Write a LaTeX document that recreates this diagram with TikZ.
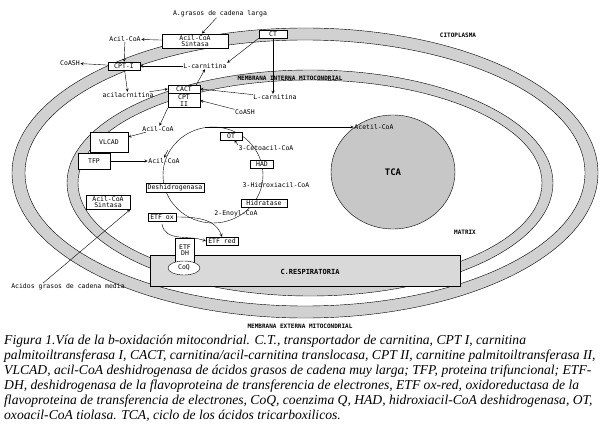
\documentclass[tikz,border=0pt]{standalone}
\usepackage{fontspec}
\setmainfont{Liberation Serif}
\newfontfamily\diagfont{DejaVu Sans Mono}
\usetikzlibrary{positioning, shapes.geometric, arrows}
\tikzset{
	enzyme/.style={
		rectangle,
		draw,
		fill=white,
		align=center,
		inner sep=1.5pt,
		font=\diagfont\fontsize{6.5}{6.5}\selectfont,
	},
	lbl/.style={
		inner sep=0.5pt,
		font=\diagfont\fontsize{6.5}{7}\selectfont,
	},
	blbl/.style={
		inner sep=0.5pt,
		font=\diagfont\bfseries\fontsize{6}{7}\selectfont,
	},
	band/.style={
		draw,
		fill=black!18,
		even odd rule,
	},
}
\begin{document}
\begin{tikzpicture}[x=1pt, y=-1pt, >=stealth]
		\useasboundingbox (0,0) rectangle (600,441);
		% Membranes
		\path [band] (305,173) ellipse [x radius=293, y radius=145]
			(305,173) ellipse [x radius=280, y radius=133];
		\path [band] (310,183) ellipse [x radius=243, y radius=113]
			(310,183) ellipse [x radius=232, y radius=103];
		\node [draw, ellipse, fill=black!22, minimum width=124, minimum height=114] (tca) at (393,172) {\diagfont\bfseries\fontsize{9}{10}\selectfont TCA};
		\node [draw, rectangle, fill=black!15, minimum width=310, minimum height=31, anchor=west] (resp) at (150,271) {};
		\node [font=\diagfont\bfseries\fontsize{7}{8}\selectfont] at (310,272) {C.RESPIRATORIA};
		
		% Compartment labels
		\node [blbl] at (458,35) {CITOPLASMA};
		\node [blbl] at (290,78) {MEMBRANA INTERNA MITOCONDRIAL};
		\node [blbl] at (465,232) {MATRIX};
		\node [blbl] at (300,326) {MEMBRANA EXTERNA MITOCONDRIAL};
		
		% Cytoplasm side
		\node [lbl] (agl) at (220,14) {A.grasos de cadena larga};
		\node [enzyme, minimum width=66] (sint1) at (195,41) {Acil-CoA\\Sintasa};
		\node [enzyme, minimum width=28] (ct) at (273,34) {CT};
		\node [lbl] (acoa1) at (125,39) {Acil-CoA};
		\node [enzyme, minimum width=32] (cpt1) at (124,66) {CPT-I};
		\node [lbl] (coash1) at (70,63) {CoASH};
		\node [lbl] (lcar1) at (205,66) {L-carnitina};
		\node [lbl] (acar) at (128,95) {acilacrnitina};
		\node [enzyme, minimum width=32] (cact) at (184,89) {CACT};
		\node [enzyme, minimum width=32, below=0pt of cact] (cpt2) {CPT\\II};
		\node [lbl] (lcar2) at (275,97) {L-carnitina};
		\node [lbl] (coash2) at (245,112) {CoASH};
		
		\draw [->] (agl) to (sint1);
		\draw [->] (sint1) to (acoa1);
		\draw [->] (acoa1) to (cpt1);
		\draw [->] (cpt1) to (coash1);
		\draw [->] (lcar1) to (cpt1);
		\draw [->] (ct.south west) to (lcar1.north east);
		\draw [->] (cpt1) to (acar);
		\draw [->] (acar) to (cact.west);
		\draw [->] (cact.north east)++(-4,0) to (lcar1.south);
		\draw [->] (ct.south) to (ct.south |- lcar2.north);
		\draw [->] (lcar2) to (cact.east);
		\draw [->] (coash2) to (cpt2.east);
		
		% Matrix side
		\node [lbl] (acoa2) at (158,129) {Acil-CoA};
		\node [enzyme, minimum width=38, minimum height=20] (vlcad) at (109,142) {VLCAD};
		\node [enzyme, minimum width=32, minimum height=16] (tfp) at (94,161) {TFP};
		\node [lbl] (acoa3) at (164,161) {Acil-CoA};
		\node [enzyme, minimum width=44] (sint2) at (108,202) {Acil-CoA\\Sintasa};
		\node [lbl] (agm) at (68,287) {Acidos grasos de cadena media};
		
		\draw [->] (cpt2.south west) to (acoa2);
		\draw [->] (acoa2) to (vlcad);
		\draw [->] (tfp) to (acoa3);
		\draw [->] (agm.north) ++(-25,0) to (sint2.south east);
		
		% Beta-oxidation cycle
		\draw (213,175) ellipse [x radius=50, y radius=48];
		\coordinate (ctop) at (205,127);
		\node [lbl] (acetil) at (374,127) {Acetil-CoA};
		\draw [->] (ctop) to (acetil.west);
		\draw [->] (168,150) to (acoa3.north);
		\node [enzyme, minimum width=22] (ot) at (231,136) {OT};
		\node [lbl] (ceto) at (266,148) {3-Cetoacil-CoA};
		\node [enzyme, minimum width=23] (had) at (262,164) {HAD};
		\node [lbl] (hidr) at (276,185) {3-Hidroxiacil-CoA};
		\node [enzyme, minimum width=46] (hdt) at (264,203) {Hidratase};
		\node [lbl] (enoyl) at (236,214) {2-Enoyl-CoA};
		\node [enzyme, minimum width=56] (desh) at (175,188) {Deshidrogenasa};
		\node [enzyme, minimum width=28] (etfox) at (162,217) {ETF ox};
		\node [enzyme, minimum width=32] (etfred) at (222,241) {ETF red};
		\node [enzyme, minimum width=19, minimum height=24] (etfdh) at (185,250) {ETF\\DH};
		\node [draw, ellipse, fill=white, minimum width=32, minimum height=14, inner sep=0pt, font=\diagfont\fontsize{6.5}{7}\selectfont] (coq) at (184,268) {CoQ};
		
		\draw [->] (ceto.north west) to (ot);
		\draw [->] (etfox.east) to[out=0, in=110] (etfred.north);
		\draw [->] (etfox.south) ++(0,3) to[out=-80, in=160] (etfred.west);
		
		% Caption
		\node [anchor=north west, align=left, inner sep=0pt, font=\itshape\fontsize{13.6}{15}\selectfont] (cap) at (4,335) {%
Figura 1.Vía de la b-oxidación mitocondrial. C.T., transportador de carnitina, CPT I, carnitina\\
palmitoiltransferasa I, CACT, carnitina/acil-carnitina translocasa, CPT II, carnitine palmitoiltransferasa II,\\
VLCAD, acil-CoA deshidrogenasa de ácidos grasos de cadena muy larga; TFP, proteina trifuncional; ETF-\\
DH, deshidrogenasa de la flavoproteina de transferencia de electrones, ETF ox-red, oxidoreductasa de la\\
flavoproteina de transferencia de electrones, CoQ, coenzima Q, HAD, hidroxiacil-CoA deshidrogenasa, OT,\\
oxoacil-CoA tiolasa. TCA, ciclo de los ácidos tricarboxilicos.};

	\end{tikzpicture}
\end{document}
